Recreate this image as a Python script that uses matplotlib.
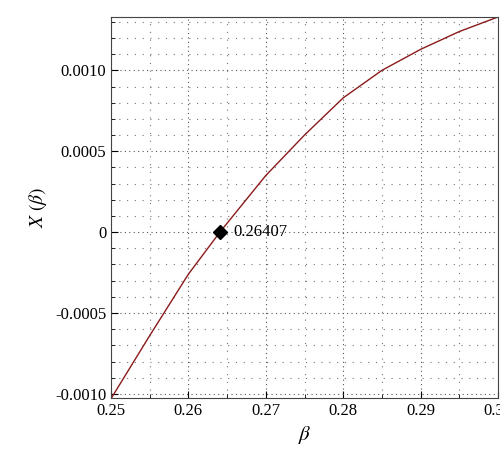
import matplotlib
matplotlib.use("Agg")
import matplotlib.pyplot as plt
from matplotlib.ticker import MultipleLocator, FixedLocator, FormatStrFormatter

plt.rcParams['font.family'] = ['Liberation Serif', 'DejaVu Serif']
plt.rcParams['mathtext.fontset'] = 'stix'

beta = [0.25, 0.255, 0.26, 0.26407, 0.27, 0.275, 0.28, 0.285, 0.29, 0.295, 0.30]
x_beta = [-0.00103, -0.00064, -0.00026, 0.0, 0.00035, 0.00060, 0.00083, 0.00100, 0.00113, 0.00124, 0.00133]
root = 0.26407
xticks = [0.25, 0.26, 0.27, 0.28, 0.29, 0.30]
yticks = [-0.0010, -0.0005, 0, 0.0005, 0.0010]
ylabels = ["-0.0010", "-0.0005", "0", "0.0005", "0.0010"]

fig = plt.figure(figsize=(5, 4.72), dpi=100)
ax = fig.add_axes([0.222, 0.157, 0.774, 0.807])

ax.plot(beta, x_beta, color='#8b1a1a', lw=1.0)
ax.plot([root], [0], marker='D', color='black', ms=7)
ax.annotate(f"{root:.5f}", (root, 0), xytext=(10, 0), textcoords='offset points',
            va='center', fontsize=12)

ax.set_xlim(0.25, 0.30)
ax.set_ylim(-0.001025, 0.00133)
ax.xaxis.set_major_locator(FixedLocator(xticks))
ax.xaxis.set_major_formatter(FormatStrFormatter('%.2f'))
ax.xaxis.set_minor_locator(MultipleLocator(0.005))
ax.yaxis.set_major_locator(FixedLocator(yticks))
ax.set_yticklabels(ylabels)
ax.yaxis.set_minor_locator(MultipleLocator(0.0001))

ax.grid(which='major', color='#555555', linestyle=(0, (1, 3)), lw=0.8)
ax.grid(which='minor', color='#777777', linestyle=(0, (1, 6)), lw=0.8)
ax.tick_params(which='both', direction='in', labelsize=12)
ax.tick_params(which='major', length=5)
ax.tick_params(which='minor', length=3)
for s in ax.spines.values():
    s.set_color('#444444')

ax.set_xlabel(r"$\beta$", fontsize=15)
ax.set_ylabel(r"$X\ (\beta)$", fontsize=14)

fig.savefig("out.png")
